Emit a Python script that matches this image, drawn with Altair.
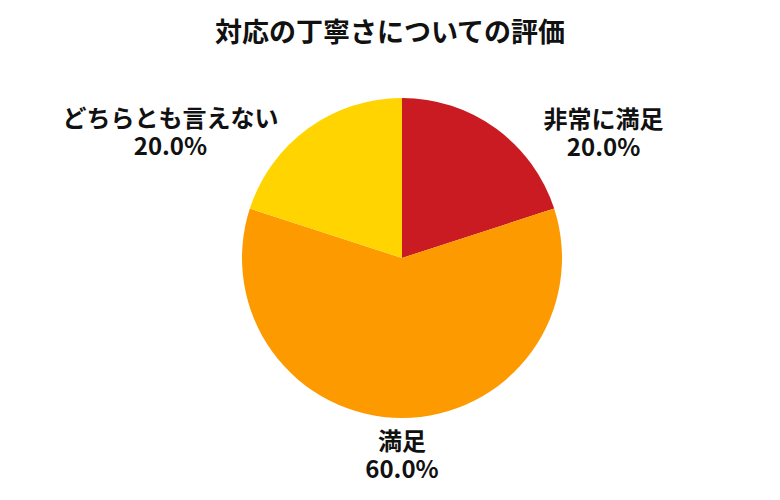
import altair as alt
import pandas as pd
import math

categories = ["非常に満足", "満足", "どちらとも言えない"]
values = [20.0, 60.0, 20.0]
colors = ["#C91B21", "#FD9A00", "#FFD400"]
order_idx = [0, 1, 2]

df = pd.DataFrame({
    "category": categories,
    "value": values,
    "idx": order_idx,
})
df["label"] = [f"{c}\n{v:.1f}%" for c, v in zip(categories, values)]

FONT = "Noto Sans CJK JP"
CX, CY = 394, 200

theta_scale = alt.Scale(domain=[0, 100], range=[0, 2 * math.pi])

pie = alt.Chart(df).mark_arc(outerRadius=160, stroke=None).encode(
    theta=alt.Theta("value:Q", stack=True, scale=theta_scale),
    color=alt.Color("category:N", scale=alt.Scale(domain=categories, range=colors), legend=None),
    order=alt.Order("idx:Q"),
    x=alt.value(CX),
    y=alt.value(CY),
)

base = alt.Chart(df).transform_window(
    cum="sum(value)", sort=[alt.SortField("idx")], frame=[None, 0]
).transform_calculate(mid="datum.cum - datum.value / 2")

offsets = {
    "非常に満足": (84, 25),
    "満足": (0, -15),
    "どちらとも言えない": (-114, 24),
}

layers = [pie]
for c in categories:
    dx, dy = offsets[c]
    layers.append(
        base.transform_filter(alt.datum.category == c)
        .mark_text(radius=200, dx=dx, dy=dy, font=FONT, fontSize=24, fontWeight="bold",
                   color="#111111", align="center", baseline="middle", lineBreak="\n", lineHeight=28)
        .encode(
            theta=alt.Theta("mid:Q", stack=None, scale=theta_scale),
            text="label:N",
            x=alt.value(CX),
            y=alt.value(CY),
        )
    )

chart = alt.layer(*layers).properties(
    width=764,
    height=436,
    padding={"left": 0, "right": 0, "top": 12, "bottom": 0},
    title=alt.TitleParams("対応の丁寧さについての評価", font=FONT, fontSize=27, fontWeight="bold",
                          color="#111111", anchor="middle", offset=10),
).configure_view(stroke=None)

chart.save("out.html", embed_options={"renderer": "svg", "actions": False})
